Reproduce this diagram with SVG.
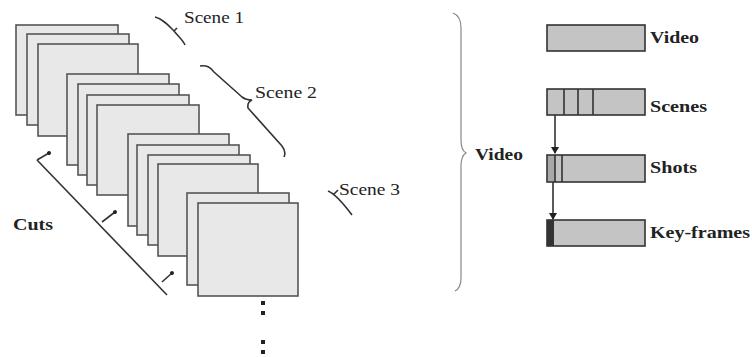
<svg xmlns="http://www.w3.org/2000/svg" width="752" height="357" viewBox="0 0 752 357">
<defs>
<style>
.fr{fill:#e8e8e8;stroke:#555;stroke-width:1.6}
.bar{fill:#c4c4c4;stroke:#333;stroke-width:1.6}
.ln{fill:none;stroke:#333;stroke-width:1.6}
.br{fill:none;stroke:#888;stroke-width:1.2}
.sc{font-family:"Liberation Serif",serif;font-size:17px;fill:#222}
.lb{font-family:"Liberation Serif",serif;font-size:16px;font-weight:bold;fill:#222}
.dot{fill:#222}
</style>
<marker id="ah" markerWidth="8" markerHeight="8" refX="6" refY="4" orient="auto" markerUnits="userSpaceOnUse">
<path d="M0,0 L7,4 L0,8 z" fill="#222"/>
</marker>
<marker id="tk" markerWidth="6" markerHeight="6" refX="3" refY="3" orient="auto" markerUnits="userSpaceOnUse">
<circle cx="3" cy="3" r="2" fill="#222"/>
</marker>
</defs>
<rect width="752" height="357" fill="#fff"/>
<g id="frames">
<rect class="fr" x="16" y="25" width="102" height="90"/>
<rect class="fr" x="27" y="34" width="102" height="91"/>
<rect class="fr" x="38" y="44" width="100" height="92"/>
<rect class="fr" x="67" y="74" width="102" height="91"/>
<rect class="fr" x="78" y="84" width="101" height="91"/>
<rect class="fr" x="87" y="95" width="102" height="90"/>
<rect class="fr" x="97" y="105" width="102" height="90"/>
<rect class="fr" x="128" y="134" width="101" height="92"/>
<rect class="fr" x="137" y="145" width="102" height="90"/>
<rect class="fr" x="148" y="155" width="102" height="90"/>
<rect class="fr" x="158" y="164" width="100" height="92"/>
<rect class="fr" x="187" y="193" width="102" height="92"/>
<rect class="fr" x="198" y="203" width="100" height="93"/>
</g>
<g id="dots">
<rect class="dot" x="261" y="301" width="4" height="4"/>
<rect class="dot" x="261" y="311" width="4" height="4"/>
<rect class="dot" x="261" y="340" width="4" height="4"/>
<rect class="dot" x="261" y="350" width="4" height="4"/>
</g>
<g id="scene1">
<path class="ln" d="M155,17 C163,19 168,25 174,31 C178,36 183,40 185,45 M174,31 L177,28"/>
<text class="sc" x="184" y="23" textLength="60" lengthAdjust="spacingAndGlyphs">Scene 1</text>
</g>
<g id="scene2">
<path class="ln" d="M200,66 C207,65 210,67 214,72 L242,97 Q246,100 252,100 Q247,102 248,108 L282,146 C285,150 286,153 284,157"/>
<text class="sc" x="255" y="98" textLength="62" lengthAdjust="spacingAndGlyphs">Scene 2</text>
</g>
<g id="scene3">
<path class="ln" d="M328,191 C333,193 340,199 352,215 M333,195 L338,190"/>
<text class="sc" x="339" y="195" textLength="61" lengthAdjust="spacingAndGlyphs">Scene 3</text>
</g>
<g id="cuts">
<line class="ln" x1="37" y1="160" x2="167" y2="295"/>
<line class="ln" x1="37" y1="160" x2="49" y2="153" marker-end="url(#tk)"/>
<line class="ln" x1="102" y1="222" x2="115" y2="212" marker-end="url(#tk)"/>
<line class="ln" x1="162" y1="282" x2="172" y2="273" marker-end="url(#tk)"/>
<text class="lb" x="13" y="230" textLength="40" lengthAdjust="spacingAndGlyphs">Cuts</text>
</g>
<g id="brace">
<path class="br" d="M453,13 Q461,16 461,28 L461,140 Q461,150 466,153 Q461,156 461,166 L461,278 Q461,288 455,291"/>
<text class="lb" x="475" y="160" textLength="48" lengthAdjust="spacingAndGlyphs">Video</text>
</g>
<g id="video">
<rect class="bar" x="547" y="25" width="98" height="26"/>
<text class="lb" x="650" y="43" textLength="49" lengthAdjust="spacingAndGlyphs">Video</text>
</g>
<g id="scenes">
<rect class="bar" x="547" y="89" width="98" height="26"/>
<line class="ln" x1="564" y1="89" x2="564" y2="115"/>
<line class="ln" x1="578" y1="89" x2="578" y2="115"/>
<line class="ln" x1="593" y1="89" x2="593" y2="115"/>
<text class="lb" x="650" y="112" textLength="57" lengthAdjust="spacingAndGlyphs">Scenes</text>
</g>
<g id="shots">
<rect class="bar" x="547" y="155" width="98" height="27"/>
<rect x="548" y="156" width="7" height="25" fill="#a8a8a8"/>
<line class="ln" x1="555" y1="155" x2="555" y2="182"/>
<line class="ln" x1="562" y1="155" x2="562" y2="182"/>
<text class="lb" x="650" y="173" textLength="47" lengthAdjust="spacingAndGlyphs">Shots</text>
</g>
<g id="keyframes">
<rect class="bar" x="547" y="220" width="98" height="26"/>
<rect x="547" y="220" width="7" height="26" fill="#333"/>
<text class="lb" x="650" y="238" textLength="100" lengthAdjust="spacingAndGlyphs">Key-frames</text>
</g>
<g id="connectors">
<line class="ln" x1="555" y1="115" x2="555" y2="153" marker-end="url(#ah)"/>
<line class="ln" x1="553" y1="182" x2="553" y2="219" marker-end="url(#ah)"/>
</g>
</svg>
